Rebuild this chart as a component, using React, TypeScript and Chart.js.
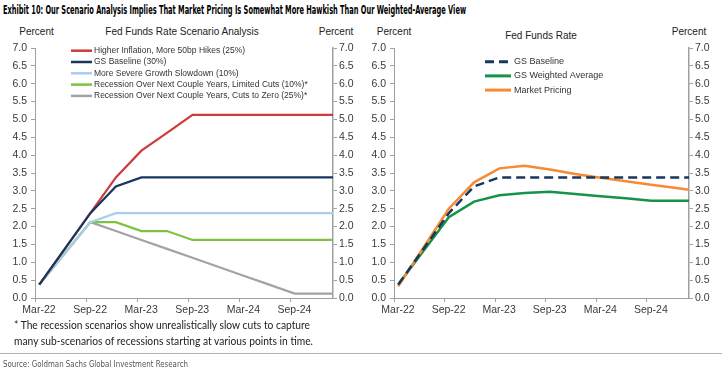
import React, { useEffect, useLayoutEffect, useRef } from 'react';
import { Chart, registerables } from 'chart.js';

Chart.register(...registerables);

// x positions: months since 1 Mar 2022 (quarterly observations, mid-month)
const xMonths = [0.5, 6.5, 9.5, 12.5, 15.5, 18.5, 21.5, 24.5, 27.5, 30.5, 33.5, 35];
const tickMonths = [0, 6, 12, 18, 24, 30];
const tickLabels = ['Mar-22', 'Sep-22', 'Mar-23', 'Sep-23', 'Mar-24', 'Sep-24'];

// Left panel: scenarios
const higherInflation = [0.375, 2.375, 3.375, 4.125, 4.625, 5.125, 5.125, 5.125, 5.125, 5.125, 5.125, 5.125];
const gsBaseline = [0.375, 2.375, 3.125, 3.375, 3.375, 3.375, 3.375, 3.375, 3.375, 3.375, 3.375, 3.375];
const severeSlowdown = [0.375, 2.125, 2.375, 2.375, 2.375, 2.375, 2.375, 2.375, 2.375, 2.375, 2.375, 2.375];
const recessionLimited = [0.375, 2.125, 2.125, 1.875, 1.875, 1.625, 1.625, 1.625, 1.625, 1.625, 1.625, 1.625];
const recessionZero = [0.375, 2.125, 1.875, 1.625, 1.375, 1.125, 0.875, 0.625, 0.375, 0.125, 0.125, 0.125];

// Right panel
const weightedAverage = [0.375, 2.26, 2.7, 2.875, 2.94, 2.975, 2.91, 2.85, 2.79, 2.725, 2.725, 2.725];
const marketPricing = [0.33, 2.5, 3.24, 3.63, 3.7, 3.6, 3.47, 3.37, 3.27, 3.17, 3.08, 3.03];

const leftLabels = [
  'Higher Inflation, More 50bp Hikes (25%)',
  'GS Baseline (30%)',
  'More Severe Growth Slowdown (10%)',
  'Recession Over Next Couple Years, Limited Cuts (10%)*',
  'Recession Over Next Couple Years, Cuts to Zero (25%)*',
];
const rightLabels = ['GS Baseline', 'GS Weighted Average', 'Market Pricing'];

const toPts = (vals: number[]) => vals.map((v, i) => ({ x: xMonths[i], y: v }));

const SANS = '"Liberation Sans", Arial, sans-serif';
const TICK_COLOR = '#3a3a3a';
const AXIS_COLOR = '#a0a0a0';

const inLegend = {
  id: 'inLegend',
  afterDraw(chart: any, _args: any, opts: any) {
    if (!opts || !opts.x) return;
    const ctx = chart.ctx;
    ctx.save();
    chart.data.datasets.forEach((ds: any, i: number) => {
      const y = opts.y + i * opts.rowH;
      ctx.strokeStyle = ds.borderColor;
      ctx.lineWidth = opts.lineWidth;
      ctx.setLineDash(ds.borderDash || []);
      ctx.beginPath();
      ctx.moveTo(opts.x, y);
      ctx.lineTo(opts.x + opts.lineLen, y);
      ctx.stroke();
      ctx.setLineDash([]);
      ctx.fillStyle = '#333';
      ctx.font = opts.font;
      ctx.textBaseline = 'middle';
      ctx.textAlign = 'left';
      ctx.fillText(ds.label, opts.x + opts.lineLen + opts.gap, y);
    });
    ctx.restore();
  },
};

function yAxis(position: 'left' | 'right', width: number, pad: number, borderW: number) {
  return {
    type: 'linear',
    position,
    min: 0,
    max: 7,
    ticks: {
      stepSize: 0.5,
      callback: (v: any) => Number(v).toFixed(1),
      font: { family: SANS, size: 10.5 },
      color: TICK_COLOR,
      padding: pad,
    },
    grid: { display: true, drawOnChartArea: false, drawTicks: true, tickLength: 4, color: AXIS_COLOR },
    border: { display: true, color: AXIS_COLOR, width: borderW },
    afterFit: (s: any) => {
      s.width = width;
    },
  };
}

function makeOptions(padding: any, legend: any) {
  return {
    responsive: false,
    animation: false,
    devicePixelRatio: 1,
    layout: { padding },
    elements: { point: { radius: 0 }, line: { tension: 0 } },
    plugins: { legend: { display: false }, tooltip: { enabled: false }, title: { display: false }, inLegend: legend },
    scales: {
      x: {
        type: 'linear',
        min: 0,
        max: 35,
        afterBuildTicks: (s: any) => {
          s.ticks = tickMonths.map((v) => ({ value: v }));
        },
        ticks: {
          callback: (v: any) => {
            const i = tickMonths.indexOf(Number(v));
            return i >= 0 ? tickLabels[i] : '';
          },
          autoSkip: false,
          maxRotation: 0,
          labelOffset: 4,
          padding: 2,
          font: { family: SANS, size: 10.5 },
          color: TICK_COLOR,
        },
        grid: { display: true, drawOnChartArea: false, drawTicks: true, tickLength: 4, color: AXIS_COLOR },
        border: { display: true, color: AXIS_COLOR, width: 1 },
        afterFit: (s: any) => {
          s.height = 20;
        },
      },
      y: yAxis('left', 30, 4, 1),
      y2: yAxis('right', 30, 2, 1.5),
    },
  };
}

function ChartCanvas({ config }: { config: () => any }) {
  const ref = useRef<HTMLCanvasElement>(null);
  useEffect(() => {
    if (!ref.current) return;
    const chart = new Chart(ref.current, config());
    return () => chart.destroy();
  }, []);
  return (
    <canvas
      ref={ref}
      width={728}
      height={373}
      style={{ position: 'absolute', left: 0, top: 0, width: 728, height: 373 }}
    />
  );
}

function Fit({ text, left, top, width, style }: any) {
  const ref = useRef<HTMLSpanElement>(null);
  useLayoutEffect(() => {
    const el = ref.current;
    if (!el) return;
    el.style.transform = 'none';
    const w = el.getBoundingClientRect().width;
    if (w > 0) el.style.transform = `scaleX(${width / w})`;
  }, [text, width]);
  return (
    <span
      ref={ref}
      style={{
        position: 'absolute',
        left,
        top,
        whiteSpace: 'nowrap',
        display: 'inline-block',
        transformOrigin: 'left center',
        ...style,
      }}
    >
      {text}
    </span>
  );
}

function Label({ text, cx, cy, size = 10, color = '#222', weight = 'normal' }: any) {
  return (
    <div
      style={{
        position: 'absolute',
        left: cx - 150,
        width: 300,
        top: cy - 8,
        height: 16,
        lineHeight: '16px',
        textAlign: 'center',
        fontFamily: SANS,
        fontSize: size,
        color,
        fontWeight: weight,
        whiteSpace: 'nowrap',
      }}
    >
      {text}
    </div>
  );
}

export default function App() {
  const leftConfig = () => ({
    type: 'line',
    data: {
      datasets: [
        { label: leftLabels[0], data: toPts(higherInflation), borderColor: '#CF3A3A', borderWidth: 2.2, order: 1 },
        { label: leftLabels[1], data: toPts(gsBaseline), borderColor: '#17375E', borderWidth: 2.2, order: 0 },
        { label: leftLabels[2], data: toPts(severeSlowdown), borderColor: '#A8CDF1', borderWidth: 2.2, order: 2 },
        { label: leftLabels[3], data: toPts(recessionLimited), borderColor: '#7DC243', borderWidth: 2.2, order: 3 },
        { label: leftLabels[4], data: toPts(recessionZero), borderColor: '#A3A3A3', borderWidth: 2.2, order: 4 },
      ],
    },
    options: makeOptions(
      { left: 5, right: 365, top: 48, bottom: 55 },
      { x: 71, y: 50.7, rowH: 11.3, lineLen: 21, gap: 2, lineWidth: 2.5, font: `8.5px ${SANS}` }
    ),
    plugins: [inLegend],
  });

  const rightConfig = () => ({
    type: 'line',
    data: {
      datasets: [
        { label: rightLabels[0], data: toPts(gsBaseline), borderColor: '#17375E', borderWidth: 2.5, borderDash: [9, 5], order: 0 },
        { label: rightLabels[1], data: toPts(weightedAverage), borderColor: '#17924A', borderWidth: 2.5, order: 2 },
        { label: rightLabels[2], data: toPts(marketPricing), borderColor: '#F68B33', borderWidth: 2.5, order: 1 },
      ],
    },
    options: makeOptions(
      { left: 364, right: 9, top: 48, bottom: 55 },
      { x: 485, y: 61.7, rowH: 14.2, lineLen: 26, gap: 3, lineWidth: 3, font: `9px ${SANS}` }
    ),
    plugins: [inLegend],
  });

  return (
    <div
      style={{
        position: 'fixed',
        left: 0,
        top: 0,
        width: 728,
        height: 373,
        background: '#fff',
        overflow: 'hidden',
      }}
    >
      <Fit
        text="Exhibit 10: Our Scenario Analysis Implies That Market Pricing Is Somewhat More Hawkish Than Our Weighted-Average View"
        left={3}
        top={2}
        width={463}
        style={{
          fontFamily: '"Liberation Sans Narrow", "DejaVu Sans Condensed", "Liberation Sans", sans-serif',
          fontWeight: 'bold',
          fontSize: 12.5,
          lineHeight: '15px',
          color: '#000',
        }}
      />

      <Label text="Percent" cx={36.5} cy={32.3} />
      <Label text="Fed Funds Rate Scenario Analysis" cx={182} cy={32.3} />
      <Label text="Percent" cx={336} cy={32.3} />
      <Label text="Percent" cx={394} cy={32.3} />
      <Label text="Fed Funds Rate" cx={541} cy={36} />
      <Label text="Percent" cx={689} cy={32.3} />

      <ChartCanvas config={leftConfig} />
      <ChartCanvas config={rightConfig} />

      <Fit
        text="* The recession scenarios show unrealistically slow cuts to capture"
        left={14}
        top={318}
        width={296}
        style={{ fontFamily: 'Lato, "Open Sans", sans-serif', fontSize: 10.5, lineHeight: '14px', color: '#222' }}
      />
      <Fit
        text="many sub-scenarios of recessions starting at various points in time."
        left={14}
        top={334}
        width={299}
        style={{ fontFamily: 'Lato, "Open Sans", sans-serif', fontSize: 10.5, lineHeight: '14px', color: '#222' }}
      />

      <div style={{ position: 'absolute', left: 0, top: 353, width: 722, height: 0, borderTop: '1.5px solid #b4b4b4' }} />

      <Fit
        text="Source: Goldman Sachs Global Investment Research"
        left={3}
        top={358}
        width={185}
        style={{
          fontFamily: '"Liberation Sans Narrow", "DejaVu Sans Condensed", "Liberation Sans", sans-serif',
          fontSize: 9,
          lineHeight: '13px',
          color: '#555',
        }}
      />
    </div>
  );
}
